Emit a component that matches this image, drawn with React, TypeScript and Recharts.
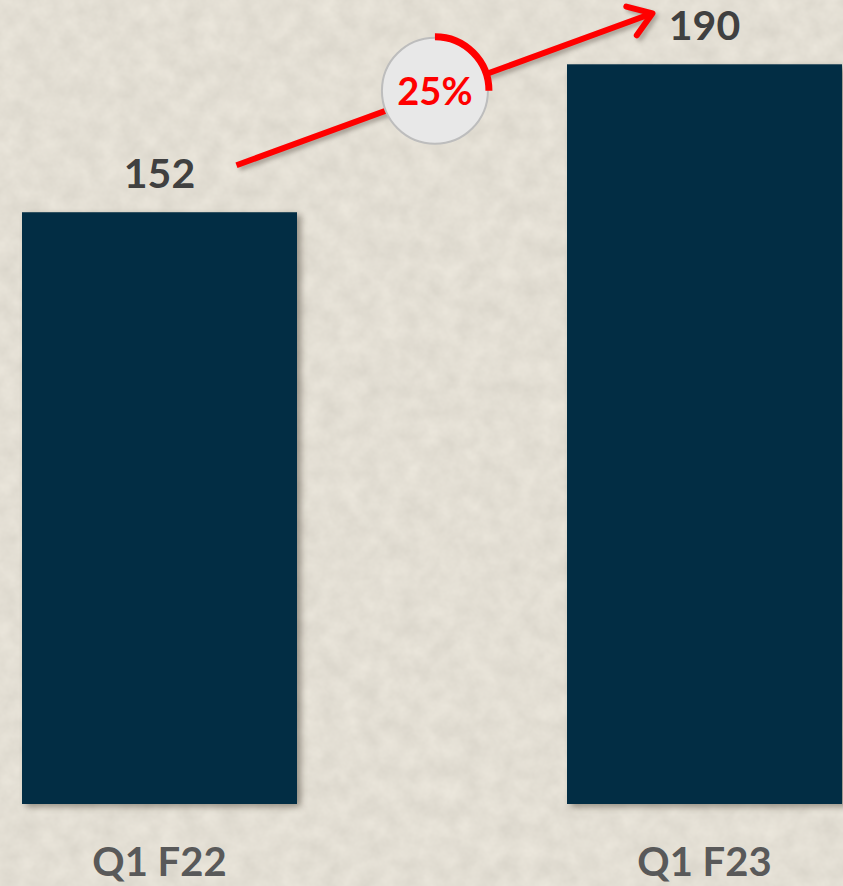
import React from "react";
import { BarChart, Bar, XAxis, YAxis, LabelList } from "recharts";

const quarters = ["Q1 F22", "Q1 F23"];
const revenue = [152, 190];

const data = quarters.map((q, i) => ({ quarter: q, value: revenue[i] }));

const W = 843;
const H = 886;
// chart is wider than the frame and shifted left, the first band is cut off like in the slide
const CHART_LEFT = -113;
const CHART_W = 1090;
const MARGIN = { top: 2, right: 0, bottom: 0, left: 0 };
const AXIS_H = 82;
const Y_MAX = 206;

const BAR_COLOR = "#022d44";
const FONT = "Lato, 'Open Sans', sans-serif";

const plotH = H - MARGIN.top - MARGIN.bottom - AXIS_H;
const band = (CHART_W - MARGIN.left - MARGIN.right) / quarters.length;
const cx = (i: number) => CHART_LEFT + MARGIN.left + band * (i + 0.5);
const cy = (v: number) => MARGIN.top + plotH * (1 - v / Y_MAX);

const BarShape = (props: any) => {
  const { x, y, width, height } = props;
  return (
    <rect
      x={x}
      y={y}
      width={width}
      height={height}
      fill={BAR_COLOR}
      style={{ filter: "drop-shadow(4px 3px 3px rgba(60,50,40,0.45))" }}
    />
  );
};

const ValueLabel = (props: any) => {
  const { x, y, width, value } = props;
  return (
    <text
      x={x + width / 2}
      y={y - 24}
      textAnchor="middle"
      fill="#404040"
      fontSize={41}
      fontWeight={700}
      fontFamily={FONT}
    >
      {value}
    </text>
  );
};

const QuarterTick = (props: any) => {
  const { x, y, payload } = props;
  return (
    <text
      x={x}
      y={y + 72}
      textAnchor="middle"
      fill="#595959"
      fontSize={40}
      fontWeight={700}
      fontFamily={FONT}
    >
      {payload.value}
    </text>
  );
};

function GrowthArrow() {
  const growth = Math.round(((revenue[1] - revenue[0]) / revenue[0]) * 100);
  const x1 = cx(0) + 77;
  const y1 = cy(revenue[0]) - 47;
  const x2 = cx(1) - 52;
  const y2 = cy(revenue[1]) - 51;
  const t = 0.477;
  const mx = x1 + (x2 - x1) * t;
  const my = y1 + (y2 - y1) * t - 2;
  const ang = Math.atan2(y2 - y1, x2 - x1);
  const head = 27;
  const wing = (a: number) => [x2 - head * Math.cos(ang + a), y2 - head * Math.sin(ang + a)];
  const [hx1, hy1] = wing(0.6);
  const [hx2, hy2] = wing(-0.6);
  const r = 53;
  const ra = 54;
  return (
    <svg width={W} height={H} style={{ position: "absolute", left: 0, top: 0 }}>
      <g style={{ filter: "drop-shadow(3px 3px 2px rgba(60,50,40,0.35))" }}>
        <line x1={x1} y1={y1} x2={x2} y2={y2} stroke="#ff0000" strokeWidth={6} />
        <polyline
          points={`${hx1},${hy1} ${x2},${y2} ${hx2},${hy2}`}
          fill="none"
          stroke="#ff0000"
          strokeWidth={6}
          strokeLinecap="round"
          strokeLinejoin="round"
        />
      </g>
      <circle cx={mx} cy={my} r={r} fill="#e8e8e8" stroke="#bdbdbd" strokeWidth={2} />
      <path
        d={`M ${mx} ${my - ra} A ${ra} ${ra} 0 0 1 ${mx + ra} ${my}`}
        fill="none"
        stroke="#ff0000"
        strokeWidth={7}
      />
      <text
        x={mx}
        y={my + 14}
        textAnchor="middle"
        fill="#ff0000"
        fontSize={38}
        fontWeight={700}
        fontFamily={FONT}
      >
        {growth}%
      </text>
    </svg>
  );
}

export default function App() {
  return (
    <div
      style={{
        position: "absolute",
        left: 0,
        top: 0,
        width: W,
        height: H,
        overflow: "hidden",
        background: "#e3ded4",
      }}
    >
      <svg width={W} height={H} style={{ position: "absolute", left: 0, top: 0 }}>
        <filter id="paper" colorInterpolationFilters="sRGB">
          <feTurbulence type="fractalNoise" baseFrequency="0.05" numOctaves={4} seed={7} />
          <feColorMatrix
            type="matrix"
            values="0.08 0 0 0 0.85  0.08 0 0 0 0.832  0.08 0 0 0 0.79  0 0 0 0 1"
          />
        </filter>
        <rect width={W} height={H} filter="url(#paper)" />
      </svg>
      <div style={{ position: "absolute", left: CHART_LEFT, top: 0 }}>
        <BarChart width={CHART_W} height={H} data={data} margin={MARGIN}>
          <YAxis hide domain={[0, Y_MAX]} />
          <XAxis
            dataKey="quarter"
            height={AXIS_H}
            axisLine={false}
            tickLine={false}
            tickSize={0}
            tickMargin={0}
            tick={<QuarterTick />}
            interval={0}
          />
          <Bar dataKey="value" barSize={275} shape={<BarShape />} isAnimationActive={false}>
            <LabelList dataKey="value" content={<ValueLabel />} />
          </Bar>
        </BarChart>
      </div>
      <GrowthArrow />
    </div>
  );
}
